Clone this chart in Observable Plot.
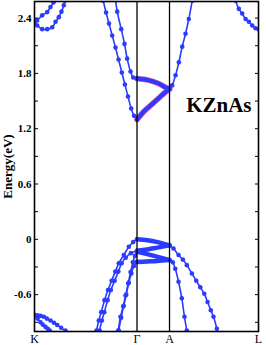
<!DOCTYPE html>
<html><head><meta charset="utf-8">
<script src="https://cdn.jsdelivr.net/npm/d3@7"></script>
<script src="https://cdn.jsdelivr.net/npm/@observablehq/plot@0.6"></script>
<style>
body{margin:0;background:#fff}
svg{display:block}
svg, svg text{font-family:"Liberation Serif","Times New Roman","DejaVu Serif",serif !important}
</style>
</head><body><div id="chart"></div>
<script>
// high-symmetry points along the path
const kPoints = ["K", "Γ", "A", "L"];
const kPos = [0, 1, 1.317, 2.185];
const yTicks = [-0.6, 0, 0.6, 1.2, 1.8, 2.4];
const minorTicks = [-0.9, -0.6, -0.3, 0, 0.3, 0.6, 0.9, 1.2, 1.5, 1.8, 2.1, 2.4];
const compound = "KZnAs";
const yLabel = "Energy(eV)";

// conduction bands [k, E]
const cbK_up = [[0,2.35],[0.026,2.375],[0.075,2.43],[0.124,2.465],[0.156,2.52],[0.185,2.57],[0.195,2.60]];
const cbK_lo = [[0,2.35],[0.026,2.32],[0.075,2.28],[0.124,2.28],[0.173,2.30],[0.205,2.36],[0.237,2.41],[0.263,2.47],[0.286,2.54],[0.296,2.59]];
const cb1_GK = [[0.670,2.59],[0.698,2.46],[0.727,2.34],[0.758,2.21],[0.790,2.08],[0.820,1.95],[0.852,1.81],[0.882,1.68],[0.912,1.55],[0.943,1.42],[0.971,1.34],[1.0,1.30]];
const cb2_GK = [[0.790,2.60],[0.807,2.47],[0.846,2.28],[0.878,2.12],[0.904,1.96],[0.937,1.82],[0.963,1.755],[1.0,1.745]];
const cb1_GA = [[1.0,1.30],[1.03,1.34],[1.07,1.39],[1.12,1.44],[1.17,1.49],[1.22,1.54],[1.27,1.59],[1.317,1.63]];
const cb2_GA = [[1.0,1.745],[1.11,1.727],[1.21,1.69],[1.275,1.65],[1.317,1.63]];
const cb_AL = [[1.317,1.63],[1.343,1.67],[1.376,1.78],[1.408,1.92],[1.441,2.09],[1.473,2.23],[1.505,2.39],[1.539,2.59]];
const cb_L = [[1.961,2.59],[1.993,2.50],[2.026,2.45],[2.059,2.39],[2.091,2.36],[2.124,2.32],[2.156,2.29],[2.185,2.28]];

// valence bands [k, E]
const vb1_GA = [[1.0,0],[1.1,-0.01],[1.2,-0.03],[1.317,-0.065]];
const vb2_GA = [[1.0,-0.125],[1.1,-0.11],[1.2,-0.09],[1.317,-0.065]];
const vb3_GA = [[1.0,-0.135],[1.1,-0.16],[1.2,-0.19],[1.317,-0.225]];
const vb4_GA = [[1.0,-0.245],[1.1,-0.24],[1.2,-0.235],[1.317,-0.225]];
const vb1_GK = [[0.605,-0.99],[0.627,-0.88],[0.651,-0.79],[0.683,-0.66],[0.717,-0.55],[0.752,-0.45],[0.788,-0.35],[0.822,-0.26],[0.871,-0.17],[0.920,-0.08],[0.963,-0.03],[1.0,0]];
const vb2_GK = [[0.635,-0.99],[0.657,-0.88],[0.681,-0.79],[0.713,-0.66],[0.745,-0.55],[0.782,-0.45],[0.818,-0.35],[0.850,-0.26],[0.89,-0.20],[0.94,-0.15],[1.0,-0.125]];
const vb3_GK = [[0.817,-0.99],[0.839,-0.84],[0.865,-0.73],[0.888,-0.61],[0.914,-0.48],[0.937,-0.355],[0.96,-0.25],[0.98,-0.18],[1.0,-0.135]];
const vb4_GK = [[0.822,-0.99],[0.845,-0.85],[0.870,-0.72],[0.895,-0.60],[0.920,-0.47],[0.945,-0.37],[0.97,-0.29],[1.0,-0.245]];
const vb1_AL = [[1.317,-0.065],[1.356,-0.10],[1.405,-0.17],[1.447,-0.22],[1.486,-0.28],[1.535,-0.37],[1.578,-0.45],[1.617,-0.52],[1.656,-0.59],[1.688,-0.68],[1.720,-0.77],[1.746,-0.84],[1.779,-0.97]];
const vb2_AL = [[1.317,-0.225],[1.349,-0.25],[1.373,-0.32],[1.405,-0.46],[1.437,-0.64],[1.463,-0.84],[1.486,-0.99]];
const vbK_a = [[0,-0.82],[0.03,-0.825],[0.06,-0.83],[0.091,-0.84],[0.12,-0.86],[0.156,-0.88],[0.19,-0.905],[0.222,-0.93],[0.26,-0.96],[0.302,-0.99]];
const vbK_b = [[0,-0.83],[0.03,-0.86],[0.059,-0.90],[0.08,-0.925],[0.107,-0.95],[0.13,-0.97],[0.149,-0.99]];

const bands = [
  ["cbK_up", cbK_up, 0], ["cbK_lo", cbK_lo, 0], ["cb1_GK", cb1_GK, 0], ["cb2_GK", cb2_GK, 0],
  ["cb1_GA", cb1_GA, 2], ["cb2_GA", cb2_GA, 2], ["cb_AL", cb_AL, 0], ["cb_L", cb_L, 0],
  ["vb1_GA", vb1_GA, 1], ["vb2_GA", vb2_GA, 1], ["vb3_GA", vb3_GA, 1], ["vb4_GA", vb4_GA, 1],
  ["vb1_GK", vb1_GK, 0], ["vb2_GK", vb2_GK, 0], ["vb3_GK", vb3_GK, 0], ["vb4_GK", vb4_GK, 0],
  ["vb1_AL", vb1_AL, 0], ["vb2_AL", vb2_AL, 0], ["vbK_a", vbK_a, 0], ["vbK_b", vbK_b, 0]
];
const rows = bands.flatMap(([id, pts, fat]) => pts.map(([k, E]) => ({id, fat, k, E})));
const thin = rows.filter(d => d.fat === 0);
const fatC = rows.filter(d => d.fat === 2);
const fatV = rows.filter(d => d.fat === 1);
const blue = "#2b3bff";
const serif = "'Liberation Serif', 'Times New Roman', serif";
const L = {x: "k", y: "E", z: "id", curve: "catmull-rom", clip: true};

const plot = Plot.plot({
  width: 266, height: 345,
  marginLeft: 34, marginRight: 8, marginTop: 1, marginBottom: 14,
  x: {domain: [kPos[0], kPos[3]]},
  y: {domain: [-1.0, 2.58]},
  style: {fontFamily: serif, background: "#fff", color: "#000"},
  marks: [
    Plot.line(fatC, {...L, stroke: "#d24aa8", strokeWidth: 5.6}),
    Plot.line(fatC, {...L, stroke: blue, strokeWidth: 4}),
    Plot.line(fatV, {...L, stroke: blue, strokeWidth: 4.5}),
    Plot.line(thin, {...L, stroke: blue, strokeWidth: 1.6}),
    Plot.dot(thin, {x: "k", y: "E", r: 2.3, fill: blue, clip: true}),
    Plot.ruleX(kPos.slice(1, 3), {stroke: "#000", strokeWidth: 1.3}),
    Plot.frame({stroke: "#000", strokeWidth: 1.6}),
    Plot.axisY({ticks: yTicks, tickSize: 0, tickPadding: 3, fontFamily: serif, fontWeight: "bold", fontSize: 11, tickFormat: d => String(d), label: null}),
    Plot.axisY({ticks: minorTicks, tickSize: 4, dx: 4, tickFormat: () => "", label: null}),
    Plot.axisY({anchor: "right", ticks: minorTicks, tickSize: 4, dx: -4, tickFormat: () => "", label: null}),
    Plot.axisX({ticks: kPos, tickFormat: d => kPoints[kPos.indexOf(d)], tickSize: 0, tickPadding: 3, fontFamily: serif, fontSize: 12, label: null}),
    Plot.text([yLabel], {frameAnchor: "left", dx: -27, rotate: -90, fontFamily: serif, fontSize: 13, fontWeight: "bold", textAnchor: "middle", lineAnchor: "middle"}),
    Plot.text([compound], {frameAnchor: "top-right", dx: -7, dy: 96, fontFamily: serif, fontSize: 21, fontWeight: "bold", textAnchor: "end", lineAnchor: "top"})
  ]
});
document.getElementById("chart").appendChild(plot);
</script>
</body></html>
